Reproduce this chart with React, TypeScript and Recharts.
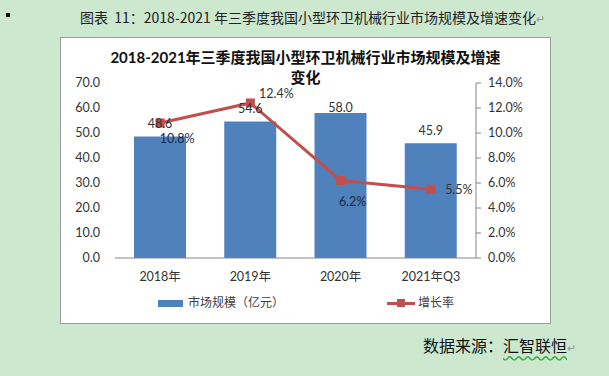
import React from 'react';
import { ComposedChart, Bar, Line, XAxis, YAxis, LabelList, Legend } from 'recharts';

const categories = ['2018年', '2019年', '2020年', '2021年Q3'];
const marketSize = [48.6, 54.6, 58.0, 45.9];
const growthRate = [10.8, 12.4, 6.2, 5.5];
const leftTicks = [0, 10, 20, 30, 40, 50, 60, 70];
const rightTicks = [0, 2, 4, 6, 8, 10, 12, 14];
const seriesNames = ['市场规模（亿元）', '增长率'];

const data = categories.map((c, i) => ({ name: c, size: marketSize[i], rate: growthRate[i] }));

const BAR_COLOR = '#4F81BD';
const LINE_COLOR = '#C0504D';
const FONT = "Lato, 'Noto Sans CJK SC', sans-serif";
const TEXT = '#333333';

const barLabelDy = [-13, -13, -6, -13];
const lineLabelD = [
  [17, 15],
  [26, -10],
  [12, 21],
  [28, 0],
];

const BarLabel = (props: any) => {
  const { x, y, width, value, index } = props;
  return (
    <text
      x={Number(x) + Number(width) / 2}
      y={Number(y) + barLabelDy[index]}
      textAnchor="middle"
      dominantBaseline="central"
      fontSize={12.5}
      fontFamily={FONT}
      fill={TEXT}
    >
      {Number(value).toFixed(1)}
    </text>
  );
};

const LineLabel = (props: any) => {
  const { x, y, value, index } = props;
  const d = lineLabelD[index];
  return (
    <text
      x={Number(x) + d[0]}
      y={Number(y) + d[1]}
      textAnchor="middle"
      dominantBaseline="central"
      fontSize={12.5}
      fontFamily={FONT}
      fill={index === 0 || index === 2 ? '#1a2a44' : TEXT}
    >
      {Number(value).toFixed(1)}%
    </text>
  );
};

const SquareDot = (props: any) => {
  const { cx, cy, index } = props;
  if (cx == null || cy == null) return null;
  return <rect key={`d${index}`} x={cx - 4.5} y={cy - 4.5} width={9} height={9} fill={LINE_COLOR} />;
};

const LegendContent = () => (
  <div style={{ position: 'relative', width: 491, height: 24, fontFamily: FONT, fontSize: 12, color: '#404040' }}>
    <div style={{ position: 'absolute', left: 98, top: 8.5, width: 25, height: 7, background: BAR_COLOR }} />
    <div style={{ position: 'absolute', left: 128, top: 0, lineHeight: '24px', whiteSpace: 'nowrap' }}>{seriesNames[0]}</div>
    <div style={{ position: 'absolute', left: 327, top: 10.5, width: 28, height: 3, background: LINE_COLOR }} />
    <div style={{ position: 'absolute', left: 337, top: 8, width: 8, height: 8, background: LINE_COLOR }} />
    <div style={{ position: 'absolute', left: 358, top: 0, lineHeight: '24px', whiteSpace: 'nowrap' }}>{seriesNames[1]}</div>
  </div>
);

export default function App() {
  return (
    <div
      style={{
        position: 'absolute',
        left: 0,
        top: 0,
        width: 609,
        height: 376,
        background: '#CCE8CF',
        overflow: 'hidden',
        fontFamily: "'Noto Sans CJK SC', sans-serif",
      }}
    >
      <div style={{ position: 'absolute', left: 6, top: 13, width: 4, height: 4, background: '#000' }} />
      <div
        style={{
          position: 'absolute',
          left: 80,
          top: 7,
          fontSize: 14,
          lineHeight: '20px',
          color: '#222',
          whiteSpace: 'pre',
        }}
      >
        {'图表  11：2018-2021 年三季度我国小型环卫机械行业市场规模及增速变化'}<span style={{ color: '#999', fontSize: 11 }}>↵</span>
      </div>

      <div
        style={{
          position: 'absolute',
          left: 60,
          top: 37,
          width: 491,
          height: 287,
          boxSizing: 'border-box',
          border: '1px solid #9c9c9c',
          background: '#fff',
        }}
      />
      <div style={{ position: 'absolute', left: 60, top: 37, width: 491, height: 287 }}>
        <div
          style={{
            position: 'absolute',
            left: 0,
            top: 10,
            width: 491,
            textAlign: 'center',
            fontFamily: FONT,
            fontWeight: 'bold',
            fontSize: 15,
            lineHeight: '20px',
            color: '#111',
            zIndex: 2,
          }}
        >
          <div>2018-2021年三季度我国小型环卫机械行业市场规模及增速</div>
          <div>变化</div>
        </div>
        <ComposedChart width={491} height={287} data={data} margin={{ top: 46, right: 15, left: 10, bottom: 9 }}>
          <XAxis
            dataKey="name"
            axisLine={{ stroke: '#868686' }}
            tickLine={false}
            tickSize={0}
            tickMargin={14}
            height={33}
            tick={{ fontSize: 12.5, fontFamily: FONT, fill: TEXT }}
          />
          <YAxis
            yAxisId="left"
            orientation="left"
            domain={[0, 70]}
            ticks={leftTicks}
            width={45}
            axisLine={false}
            tickLine={false}
            tickSize={0}
            tickMargin={15}
            tickFormatter={(v: number) => v.toFixed(1)}
            tick={{ fontSize: 12.5, fontFamily: FONT, fill: TEXT }}
          />
          <YAxis
            yAxisId="right"
            orientation="right"
            domain={[0, 14]}
            ticks={rightTicks}
            width={60}
            axisLine={{ stroke: '#868686' }}
            tickLine={{ stroke: '#868686' }}
            tickSize={5}
            tickMargin={7}
            tickFormatter={(v: number) => `${v.toFixed(1)}%`}
            tick={{ fontSize: 12.5, fontFamily: FONT, fill: TEXT }}
          />
          <Legend
            verticalAlign="bottom"
            content={<LegendContent />}
            wrapperStyle={{ left: 0, width: 491, height: 24 }}
          />
          <Bar yAxisId="left" dataKey="size" name={seriesNames[0]} fill={BAR_COLOR} barSize={52} isAnimationActive={false}>
            <LabelList dataKey="size" content={<BarLabel />} />
          </Bar>
          <Line
            yAxisId="right"
            dataKey="rate"
            name={seriesNames[1]}
            stroke={LINE_COLOR}
            strokeWidth={3}
            dot={SquareDot}
            activeDot={false}
            isAnimationActive={false}
          >
            <LabelList dataKey="rate" content={<LineLabel />} />
          </Line>
        </ComposedChart>
      </div>

      <div
        style={{
          position: 'absolute',
          left: 423,
          top: 334,
          fontSize: 16,
          lineHeight: '22px',
          color: '#111',
          whiteSpace: 'nowrap',
        }}
      >
        数据来源：
        <span style={{ textDecoration: 'underline wavy #3cb043', textUnderlineOffset: '3px' }}>汇智联恒</span>
        <span style={{ color: '#999', fontSize: 11 }}>↵</span>
      </div>
    </div>
  );
}
